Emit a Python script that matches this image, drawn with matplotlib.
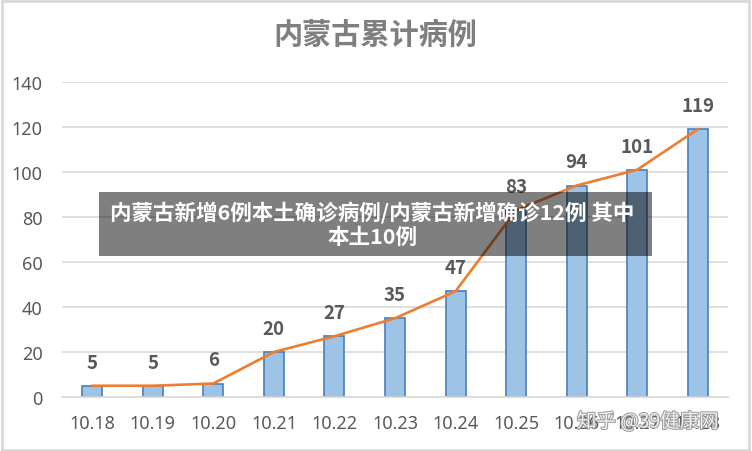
import matplotlib
matplotlib.use('Agg')
import matplotlib.pyplot as plt
import matplotlib.patheffects as pe
from matplotlib.patches import Rectangle

plt.rcParams['font.family'] = ['Noto Sans CJK SC', 'DejaVu Sans']

dates = ['10.18', '10.19', '10.20', '10.21', '10.22', '10.23', '10.24',
         '10.25', '10.26', '10.27', '10.28']
cases = [5, 5, 6, 20, 27, 35, 47, 83, 94, 101, 119]
yticks = [0, 20, 40, 60, 80, 100, 120, 140]

title = '内蒙古累计病例'
banner = '内蒙古新增6例本土确诊病例/内蒙古新增确诊12例 其中\n本土10例'
mark = '知乎 @39健康网'

fig = plt.figure(figsize=(7.52, 4.52), dpi=100)
ax = fig.add_axes([62/752, 1 - 398/452, 666/752, (398 - 83)/452])

x = list(range(len(dates)))
ax.bar(x, cases, width=0.33, color='#9DC3E6', edgecolor='#4A7EBB', linewidth=1.2, zorder=2)
ax.plot(x, cases, color='#ED7D31', linewidth=1.9, zorder=3)

# 数据标签
for xi, v in zip(x, cases):
    ax.annotate(str(v), (xi, v), xytext=(0, 17), textcoords='offset points',
                ha='center', va='center', fontsize=13.5, fontweight='bold',
                color='#595959', zorder=4)

ax.set_xlim(-0.5, len(dates) - 0.5)
ax.set_ylim(0, 140)
ax.set_yticks(yticks)
ax.set_xticks(x)
ax.set_xticklabels(dates)
ax.tick_params(length=0, labelsize=13, labelcolor='#595959')
ax.tick_params(axis='y', pad=14)
ax.tick_params(axis='x', pad=12)
for lab in ax.get_xticklabels() + ax.get_yticklabels():
    lab.set_family(['Noto Sans', 'DejaVu Sans'])
ax.grid(axis='y', color='#D9D9D9', linewidth=1.2, zorder=0)
ax.set_axisbelow(True)
for s in ['top', 'right', 'left']:
    ax.spines[s].set_visible(False)
ax.spines['bottom'].set_color('#D9D9D9')
ax.spines['bottom'].set_linewidth(1.2)

fig.text(375/752, 1 - 35/452, title, ha='center', va='center', fontsize=21,
         fontweight='bold', color='#7F7F7F')

# 灰色横幅
fig.patches.append(Rectangle((99/752, 1 - 257/452), 553/752, 64/452,
                             transform=fig.transFigure, facecolor='black',
                             alpha=0.5, edgecolor='none', zorder=5))
fig.text(372/752, 1 - 225/452, banner, ha='center', va='center', fontsize=15.5,
         fontweight='bold', color='white', linespacing=1.2, zorder=6)

# 水印
fig.text(648/752, 1 - 423/452, mark, ha='center', va='center', fontsize=14,
         color='white', alpha=0.85, zorder=6,
         path_effects=[pe.withStroke(linewidth=1.5, foreground='#8C8C8C')])

# 外框
fig.patches.append(Rectangle((0.002, 0.003), 0.994, 0.993, transform=fig.transFigure,
                             facecolor='none', edgecolor='#D9D9D9', linewidth=2, zorder=7))

fig.savefig('out.png', dpi=100)
